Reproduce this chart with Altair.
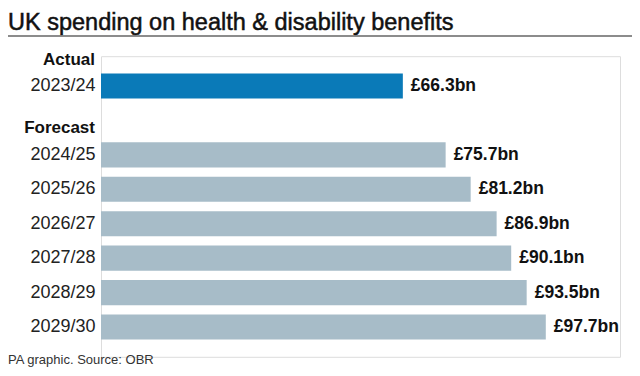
import altair as alt
import pandas as pd

years = ["2023/24", "2024/25", "2025/26", "2026/27", "2027/28", "2028/29", "2029/30"]
values = [66.3, 75.7, 81.2, 86.9, 90.1, 93.5, 97.7]
kinds = ["Actual", "Forecast", "Forecast", "Forecast", "Forecast", "Forecast", "Forecast"]
labels = ["£66.3bn", "£75.7bn", "£81.2bn", "£86.9bn", "£90.1bn", "£93.5bn", "£97.7bn"]
row_order = ["2023/24", " ", "2024/25", "2025/26", "2026/27", "2027/28", "2028/29", "2029/30"]

df = pd.DataFrame({"year": years, "value": values, "kind": kinds, "label": labels})

FONT = "Liberation Sans"
W, H = 519, 300.6
PAD_L, PAD_T = 93, 48.2

y = alt.Y("year:N", sort=row_order,
          scale=alt.Scale(domain=row_order, paddingInner=0.27, paddingOuter=0.5),
          axis=alt.Axis(title=None, domain=False, ticks=False, labelPadding=6,
                        labelFontSize=18, labelColor="#222222", labelFont=FONT))
x = alt.X("value:Q", scale=alt.Scale(domain=[0, 114]), axis=None)

bars = alt.Chart(df).mark_bar().encode(
    x=x, y=y,
    color=alt.Color("kind:N", scale=alt.Scale(domain=["Actual", "Forecast"],
                                              range=["#0a7ab8", "#a7bcc8"]), legend=None),
)

vals = alt.Chart(df).mark_text(align="left", baseline="middle", dx=8, fontSize=17.5,
                               fontWeight="bold", font=FONT, color="#111111").encode(
    x=x, y=y, text="label:N")

hdr_a = alt.Chart(pd.DataFrame({"year": ["2023/24"], "t": ["Actual"]})).mark_text(
    align="right", baseline="middle", dx=-6, dy=-26, fontSize=17, fontWeight="bold",
    font=FONT, color="#111111").encode(
    x=alt.value(0), y=y, text="t:N")

hdr_f = alt.Chart(pd.DataFrame({"year": ["2024/25"], "t": ["Forecast"]})).mark_text(
    align="right", baseline="middle", dx=-6, dy=-27, fontSize=17, fontWeight="bold",
    font=FONT, color="#111111").encode(
    x=alt.value(0), y=y, text="t:N")

title = alt.Chart(pd.DataFrame({"t": ["UK spending on health & disability benefits"]})).mark_text(
    align="left", baseline="alphabetic", fontSize=23.5, font=FONT,
    color="#111111", stroke="#111111", strokeWidth=0.5).encode(
    x=alt.value(-PAD_L), y=alt.value(21.5 - PAD_T), text="t:N")

rule = alt.Chart(pd.DataFrame({"a": [0]})).mark_rule(color="#666666", strokeWidth=1.5).encode(
    x=alt.value(-PAD_L), x2=alt.value(W + 31), y=alt.value(28 - PAD_T))

footer = alt.Chart(pd.DataFrame({"t": ["PA graphic. Source: OBR"]})).mark_text(
    align="left", baseline="bottom", fontSize=13, font=FONT, color="#333333").encode(
    x=alt.value(-PAD_L), y=alt.value(359 - PAD_T), text="t:N")

chart = alt.layer(bars, vals, hdr_a, hdr_f, title, rule, footer).properties(
    width=W, height=H,
    autosize=alt.AutoSizeParams(type="none"),
    padding={"left": PAD_L, "top": PAD_T, "right": 624 - PAD_L - W, "bottom": 360 - PAD_T - H},
).configure_view(stroke=None).configure(background="white")

chart.save("out.html", embed_options={"renderer": "svg", "actions": False})
